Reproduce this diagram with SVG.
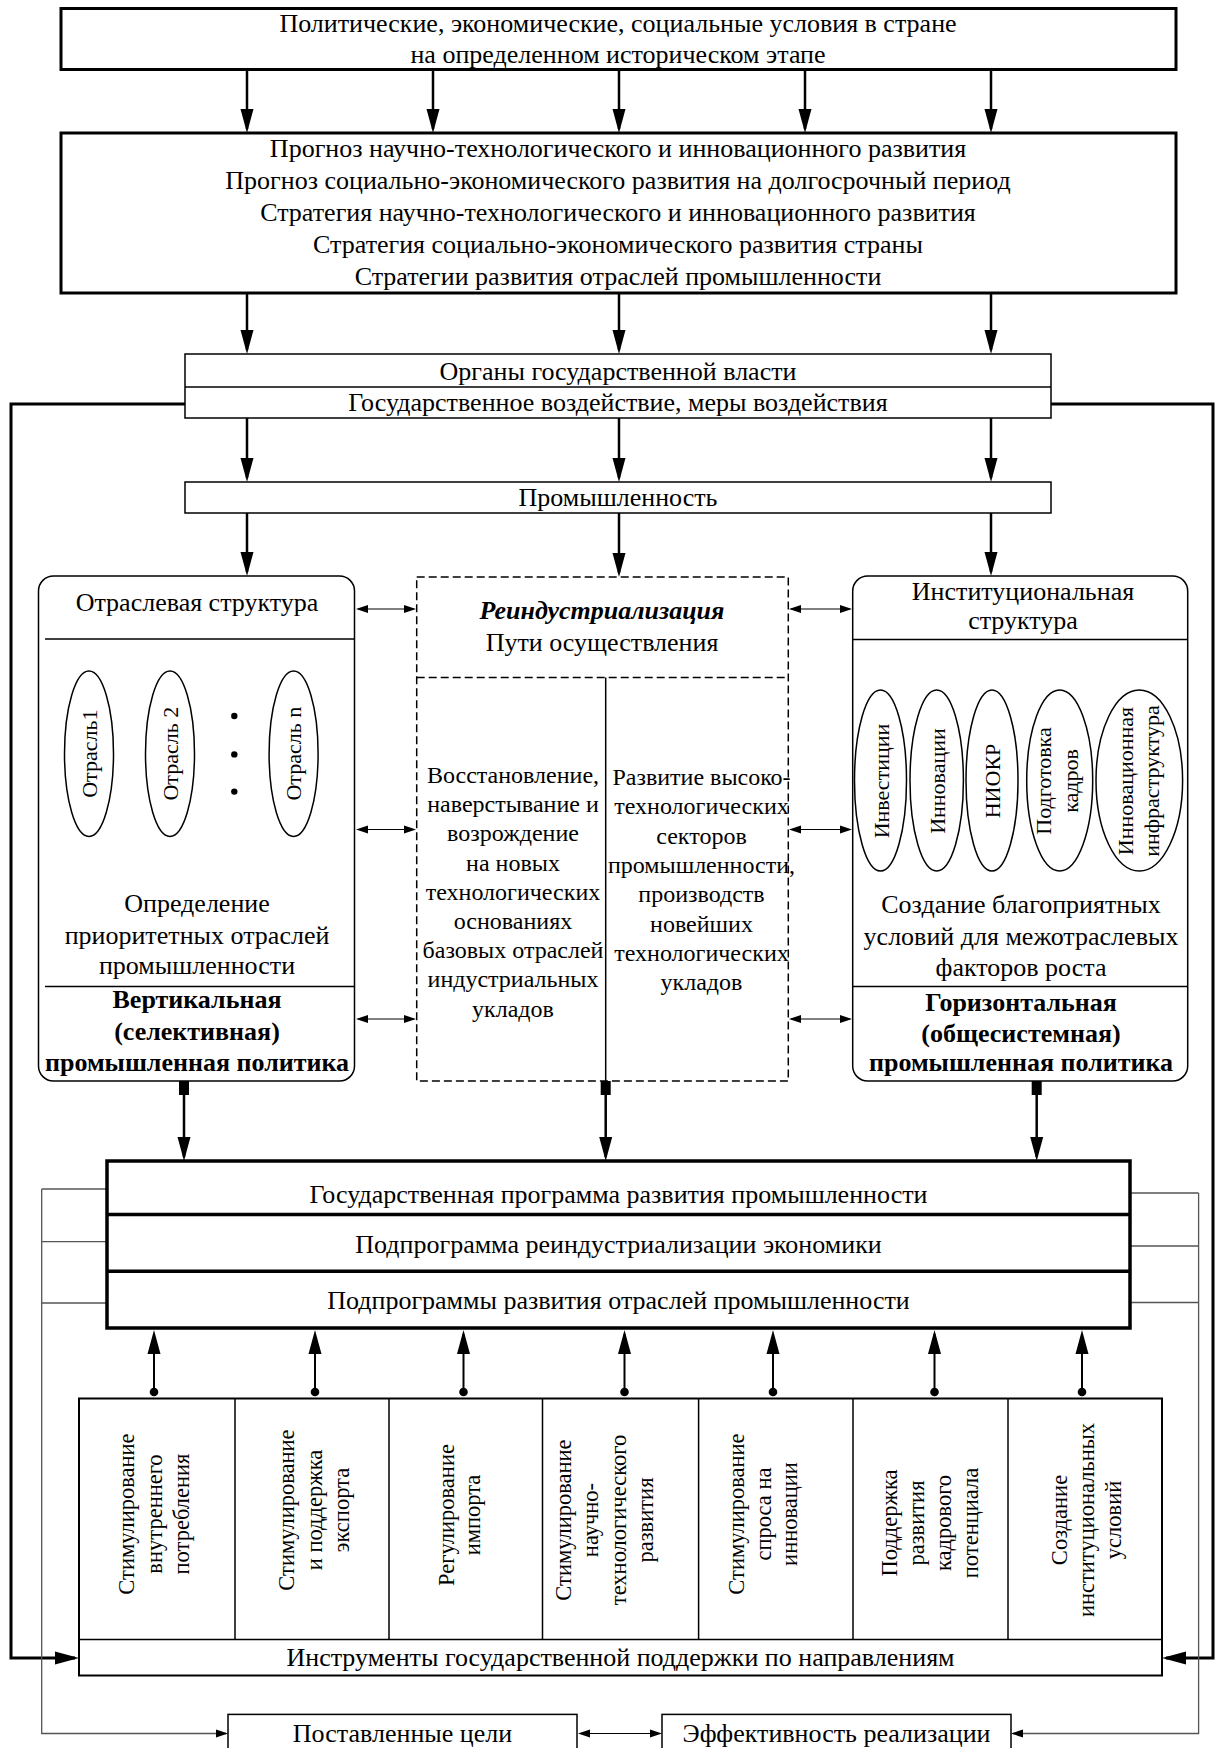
<svg xmlns="http://www.w3.org/2000/svg" width="1216" height="1748" viewBox="0 0 1216 1748">
<style>
text{font-family:"Liberation Serif","Times New Roman",serif;font-size:26px;text-anchor:middle;fill:#000}
.b{font-weight:bold}
.bi{font-weight:bold;font-style:italic}
.m{font-size:24px}
.s{font-size:22.5px}
.e{font-size:22px}
.thick{fill:#fff;stroke:#000;stroke-width:3}
.heavy{fill:none;stroke:#000;stroke-width:3.5}
.box{fill:#fff;stroke:#000;stroke-width:1.5}
.dash{fill:none;stroke:#000;stroke-width:1.5;stroke-dasharray:8 4}
.ln{fill:none;stroke:#000;stroke-width:1.5}
.arr{fill:none;stroke:#000;stroke-width:2.5;marker-end:url(#big)}
.fb{fill:none;stroke:#000;stroke-width:3;marker-end:url(#big)}
.fbn{fill:none;stroke:#000;stroke-width:3}
.sm{fill:none;stroke:#000;stroke-width:1.2;marker-end:url(#small)}
.bd{fill:none;stroke:#000;stroke-width:1.2;marker-start:url(#small2);marker-end:url(#small)}
.up{fill:none;stroke:#000;stroke-width:2;marker-start:url(#dot);marker-end:url(#big)}
.gr{fill:none;stroke:#555;stroke-width:1.3}
.gra{fill:none;stroke:#555;stroke-width:1.3;marker-end:url(#small)}
.grb{fill:none;stroke:#000;stroke-width:1.2;marker-start:url(#small2);marker-end:url(#small)}
.sq{fill:#000}
</style>
<defs>
<marker id="big" markerUnits="userSpaceOnUse" markerWidth="24" markerHeight="14" refX="20" refY="7" orient="auto"><path d="M0,0.5 L24,7 L0,13.5 z" fill="#000"/></marker>
<marker id="small" markerUnits="userSpaceOnUse" markerWidth="12" markerHeight="9" refX="10" refY="4.5" orient="auto"><path d="M0,0.5 L12,4.5 L0,8.5 z" fill="#000"/></marker>
<marker id="small2" markerUnits="userSpaceOnUse" markerWidth="12" markerHeight="9" refX="10" refY="4.5" orient="auto-start-reverse"><path d="M0,0.5 L12,4.5 L0,8.5 z" fill="#000"/></marker>
<marker id="dot" markerUnits="userSpaceOnUse" markerWidth="10" markerHeight="10" refX="5" refY="5" orient="auto"><circle cx="5" cy="5" r="4.3" fill="#000"/></marker>
</defs>

<g id="connectors">
<path class="arr" d="M247,70 V129"/>
<path class="arr" d="M433,70 V129"/>
<path class="arr" d="M619,70 V129"/>
<path class="arr" d="M805,70 V129"/>
<path class="arr" d="M991,70 V129"/>
<path class="arr" d="M247,294 V350"/>
<path class="arr" d="M619,294 V350"/>
<path class="arr" d="M991,294 V350"/>
<path class="arr" d="M247,418 V478"/>
<path class="arr" d="M619,418 V478"/>
<path class="arr" d="M991,418 V478"/>
<path class="arr" d="M247,513 V572"/>
<path class="arr" d="M619,513 V573"/>
<path class="arr" d="M991,513 V572"/>
<path class="bd" d="M358,609 H414"/>
<path class="bd" d="M358,829.5 H414"/>
<path class="bd" d="M358,1019 H414"/>
<path class="bd" d="M791,609 H850"/>
<path class="bd" d="M791,829.5 H850"/>
<path class="bd" d="M791,1019 H850"/>
<path class="sm" d="M89,639 V669"/>
<path class="sm" d="M170,639 V669"/>
<path class="sm" d="M293.5,639 V669"/>
<path class="sm" d="M881,639.5 V688"/>
<path class="sm" d="M936.5,639.5 V688"/>
<path class="sm" d="M991.5,639.5 V688"/>
<path class="sm" d="M1059.5,639.5 V688"/>
<path class="sm" d="M1140,639.5 V688"/>
<rect class="sq" x="179" y="1081" width="10" height="14"/>
<rect class="sq" x="600.7" y="1081" width="10" height="14"/>
<rect class="sq" x="1031.7" y="1081" width="10" height="14"/>
<path class="arr" d="M184,1095 V1157"/>
<path class="arr" d="M605.7,1095 V1157"/>
<path class="arr" d="M1036.7,1095 V1157"/>
<path class="up" d="M154,1392 V1334"/>
<path class="up" d="M315,1392 V1334"/>
<path class="up" d="M463.5,1392 V1334"/>
<path class="up" d="M624.5,1392 V1334"/>
<path class="up" d="M773,1392 V1334"/>
<path class="up" d="M934.5,1392 V1334"/>
<path class="up" d="M1082,1392 V1334"/>
<path class="fb" d="M185,404 H11 V1658 H75"/>
<path class="fb" d="M1051,404 H1213 V1658 H1166"/>
<path class="gr" d="M107,1189 H41.7 M107,1241.6 H41.7 M107,1303 H41.7"/>
<path class="gra" d="M41.7,1189 V1733.5 H226"/>
<path class="gr" d="M1130,1193 H1198.6 M1130,1246 H1198.6 M1130,1302.5 H1198.6"/>
<path class="gra" d="M1198.6,1193 V1733.5 H1013"/>
<path class="grb" d="M580,1733.5 H660"/>
</g>

<g id="n-conditions">
<rect class="thick" x="61" y="8.5" width="1115" height="61"/>
<text x="618" y="32">Политические, экономические, социальные условия в стране</text>
<text x="618" y="63">на определенном историческом этапе</text>
</g>

<g id="n-forecasts">
<rect class="thick" x="61" y="133" width="1115" height="160"/>
<text x="618" y="157">Прогноз научно-технологического и инновационного развития</text>
<text x="618" y="189">Прогноз социально-экономического развития на долгосрочный период</text>
<text x="618" y="221">Стратегия научно-технологического и инновационного развития</text>
<text x="618" y="253">Стратегия социально-экономического развития страны</text>
<text x="618" y="285">Стратегии развития отраслей промышленности</text>
</g>

<g id="n-authorities">
<rect class="box" x="185" y="354" width="866" height="64"/>
<path class="ln" d="M185,387 H1051"/>
<text x="618" y="380">Органы государственной власти</text>
<text x="618" y="411">Государственное воздействие, меры воздействия</text>
</g>

<g id="n-industry">
<rect class="box" x="185" y="482" width="866" height="31"/>
<text x="618" y="506">Промышленность</text>
</g>

<g id="n-vertical">
<rect class="box" x="38.5" y="576" width="316" height="505" rx="15"/>
<path class="ln" d="M45,639 H354.5 M45,986.5 H354.5"/>
<text x="197" y="611">Отраслевая структура</text>
<ellipse class="box" cx="89" cy="753.7" rx="24.5" ry="82.7"/>
<ellipse class="box" cx="170" cy="753.7" rx="24.5" ry="82.7"/>
<ellipse class="box" cx="293.6" cy="753.7" rx="24.5" ry="82.7"/>
<text class="e" transform="rotate(-90)" x="-753.7" y="96.5">Отрасль1</text>
<text class="e" transform="rotate(-90)" x="-753.7" y="177.5">Отрасль 2</text>
<text class="e" transform="rotate(-90)" x="-753.7" y="301">Отрасль n</text>
<circle cx="234.3" cy="716" r="3.2"/>
<circle cx="234.3" cy="754.4" r="3.2"/>
<circle cx="234.3" cy="791.6" r="3.2"/>
<text x="197" y="911.6">Определение</text>
<text x="197" y="943.7">приоритетных отраслей</text>
<text x="197" y="974">промышленности</text>
<text class="b" x="197" y="1008">Вертикальная</text>
<text class="b" x="197" y="1040">(селективная)</text>
<text class="b" x="197" y="1070.5">промышленная политика</text>
</g>

<g id="n-reindustrialization">
<rect class="dash" x="416.7" y="577" width="371.6" height="504"/>
<path class="dash" d="M416.7,677.6 H788.3"/>
<path class="ln" d="M605.7,677.6 V1081"/>
<text class="bi" x="602" y="619">Реиндустриализация</text>
<text x="602" y="651">Пути осуществления</text>
<text class="m" x="513" y="783">Восстановление,</text>
<text class="m" x="513" y="812.2">наверстывание и</text>
<text class="m" x="513" y="841.4">возрождение</text>
<text class="m" x="513" y="870.6">на новых</text>
<text class="m" x="513" y="899.8">технологических</text>
<text class="m" x="513" y="929">основаниях</text>
<text class="m" x="513" y="958.2">базовых отраслей</text>
<text class="m" x="513" y="987.4">индустриальных</text>
<text class="m" x="513" y="1016.6">укладов</text>
<text class="m" x="701.5" y="785">Развитие высоко-</text>
<text class="m" x="701.5" y="814.3">технологических</text>
<text class="m" x="701.5" y="843.6">секторов</text>
<text class="m" x="701.5" y="872.9">промышленности,</text>
<text class="m" x="701.5" y="902.2">производств</text>
<text class="m" x="701.5" y="931.5">новейших</text>
<text class="m" x="701.5" y="960.8">технологических</text>
<text class="m" x="701.5" y="990.1">укладов</text>
</g>

<g id="n-horizontal">
<rect class="box" x="852.7" y="576" width="335" height="505" rx="15"/>
<path class="ln" d="M852.7,639.4 H1187.7 M852.7,986.5 H1187.7"/>
<text x="1023" y="599.5">Институциональная</text>
<text x="1023" y="629.3">структура</text>
<ellipse class="box" cx="880.5" cy="780.5" rx="26" ry="90.5"/>
<ellipse class="box" cx="936.7" cy="780.5" rx="26.7" ry="90.5"/>
<ellipse class="box" cx="992" cy="780.5" rx="26" ry="90.5"/>
<ellipse class="box" cx="1059.7" cy="780.5" rx="33" ry="90.5"/>
<ellipse class="box" cx="1139.3" cy="780.5" rx="43.3" ry="90.5"/>
<text class="e" transform="rotate(-90)" x="-781" y="888.5">Инвестиции</text>
<text class="e" transform="rotate(-90)" x="-781" y="944.5">Инновации</text>
<text class="e" transform="rotate(-90)" x="-781" y="1000">НИОКР</text>
<text class="e" transform="rotate(-90)" x="-781" y="1050.5">Подготовка</text>
<text class="e" transform="rotate(-90)" x="-781" y="1077.5">кадров</text>
<text class="e" transform="rotate(-90)" x="-781" y="1132.5">Инновационная</text>
<text class="e" transform="rotate(-90)" x="-781" y="1159">инфраструктура</text>
<text x="1021" y="913.3">Создание благоприятных</text>
<text x="1021" y="945.4">условий для межотраслевых</text>
<text x="1021" y="975.8">факторов роста</text>
<text class="b" x="1021" y="1010.5">Горизонтальная</text>
<text class="b" x="1021" y="1041.5">(общесистемная)</text>
<text class="b" x="1021" y="1070.5">промышленная политика</text>
</g>

<g id="n-program">
<rect class="heavy" x="107" y="1161" width="1023" height="167" fill="#fff"/>
<path class="heavy" d="M107,1214.5 H1130 M107,1271.3 H1130"/>
<text x="618.5" y="1203">Государственная программа развития промышленности</text>
<text x="618.5" y="1253">Подпрограмма реиндустриализации экономики</text>
<text x="618.5" y="1309">Подпрограммы развития отраслей промышленности</text>
</g>

<g id="n-instruments">
<rect class="box" x="79" y="1398.5" width="1083" height="277" style="stroke-width:2"/>
<path class="ln" d="M79,1639.4 H1162 M235,1398.5 V1639.4 M389,1398.5 V1639.4 M542.5,1398.5 V1639.4 M698.6,1398.5 V1639.4 M853,1398.5 V1639.4 M1008,1398.5 V1639.4"/>
<text class="s" transform="rotate(-90)"><tspan x="-1514" y="134">Стимулирование</tspan><tspan x="-1514" y="162">внутреннего</tspan><tspan x="-1514" y="189">потребления</tspan></text>
<text class="s" transform="rotate(-90)"><tspan x="-1510" y="294">Стимулирование</tspan><tspan x="-1510" y="322">и поддержка</tspan><tspan x="-1510" y="349">экспорта</tspan></text>
<text class="s" transform="rotate(-90)"><tspan x="-1515" y="454">Регулирование</tspan><tspan x="-1515" y="480">импорта</tspan></text>
<text class="s" transform="rotate(-90)"><tspan x="-1520" y="571">Стимулирование</tspan><tspan x="-1520" y="598">научно-</tspan><tspan x="-1520" y="626">технологического</tspan><tspan x="-1520" y="653">развития</tspan></text>
<text class="s" transform="rotate(-90)"><tspan x="-1514" y="744">Стимулирование</tspan><tspan x="-1514" y="771">спроса на</tspan><tspan x="-1514" y="797">инновации</tspan></text>
<text class="s" transform="rotate(-90)"><tspan x="-1523" y="897">Поддержка</tspan><tspan x="-1523" y="924">развития</tspan><tspan x="-1523" y="951">кадрового</tspan><tspan x="-1523" y="978">потенциала</tspan></text>
<text class="s" transform="rotate(-90)"><tspan x="-1520" y="1067">Создание</tspan><tspan x="-1520" y="1094">институциональных</tspan><tspan x="-1520" y="1121">условий</tspan></text>
<text x="620.5" y="1666">Инструменты государственной поддержки по направлениям</text>
</g>

<g id="n-goals">
<rect class="box" x="228" y="1714.4" width="349" height="40"/>
<text x="402.5" y="1742">Поставленные цели</text>
</g>

<g id="n-efficiency">
<rect class="box" x="662" y="1714.4" width="349" height="40"/>
<text x="836.5" y="1742">Эффективность реализации</text>
</g>
</svg>
